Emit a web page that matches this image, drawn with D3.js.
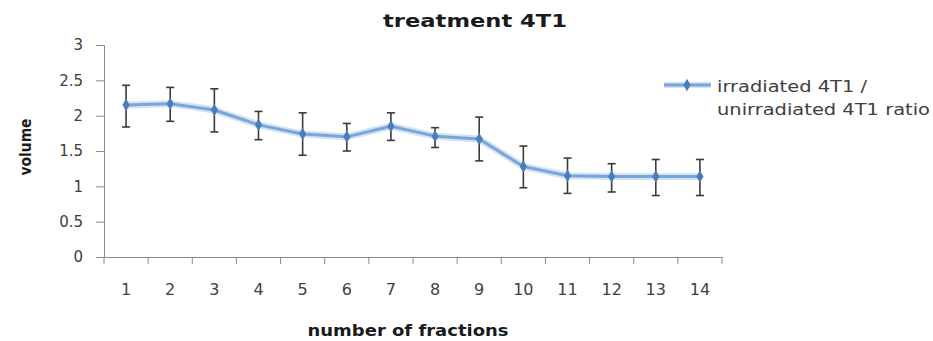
<!DOCTYPE html>
<html><head><meta charset="utf-8">
<script src="https://cdn.jsdelivr.net/npm/d3@7"></script>
<style>body{margin:0;background:#fff}</style>
</head><body>
<svg id="c" width="933" height="341"></svg>
<script>
const categories = ["1","2","3","4","5","6","7","8","9","10","11","12","13","14"];
const values = [2.15, 2.17, 2.08, 1.87, 1.74, 1.70, 1.85, 1.71, 1.67, 1.28, 1.15, 1.14, 1.14, 1.14];
const errUpper = [2.43, 2.40, 2.38, 2.06, 2.04, 1.89, 2.04, 1.83, 1.98, 1.57, 1.40, 1.32, 1.38, 1.38];
const errLower = [1.84, 1.92, 1.77, 1.66, 1.44, 1.50, 1.65, 1.55, 1.36, 0.98, 0.90, 0.92, 0.87, 0.87];
const yTicks = [0, 0.5, 1, 1.5, 2, 2.5, 3];
const seriesName = ["irradiated 4T1 /", "unirradiated 4T1 ratio"];

const svg = d3.select("#c");
const x = d3.scaleBand().domain(categories).range([104, 722]);
const y = d3.scaleLinear().domain([0, 3]).range([257, 45]);
const axisColor = "#8c8c8c";
const font = "'DejaVu Sans', Verdana, sans-serif";
const boldFont = "'DejaVu Sans', Verdana, sans-serif";

// title
svg.append("text").attr("x", 475).attr("y", 27).attr("text-anchor", "middle")
  .attr("font-family", boldFont).attr("font-weight", "bold").attr("font-size", 17).attr("fill", "#1a1a1a")
  .attr("textLength", 184).attr("lengthAdjust", "spacingAndGlyphs")
  .text("treatment 4T1");

// y axis
const ya = svg.append("g").attr("transform", "translate(104,0)")
  .call(d3.axisLeft(y).tickValues(yTicks).tickSize(8).tickPadding(13).tickFormat(d3.format("")));
ya.select(".domain").attr("stroke", axisColor);
ya.selectAll(".tick line").attr("stroke", axisColor);
ya.selectAll(".tick text").attr("font-family", font).attr("font-size", 15).attr("fill", "#404040");

// x axis
const xa = svg.append("g").attr("transform", "translate(0,257)")
  .call(d3.axisBottom(x).tickSize(0).tickPadding(27));
xa.select(".domain").attr("stroke", axisColor);
xa.selectAll(".tick text").attr("font-family", font).attr("font-size", 16).attr("fill", "#404040");
// tick marks at band boundaries
const bounds = categories.map(c => x(c)).concat([x.range()[1]]);
svg.append("g").selectAll("line").data(bounds).join("line")
  .attr("x1", d => d).attr("x2", d => d).attr("y1", 257).attr("y2", 264)
  .attr("stroke", axisColor);

// axis titles
svg.append("text").attr("transform", "translate(31,147) rotate(-90)").attr("text-anchor", "middle")
  .attr("font-family", boldFont).attr("font-weight", "bold").attr("font-size", 15).attr("fill", "#1a1a1a")
  .attr("textLength", 57).attr("lengthAdjust", "spacingAndGlyphs")
  .text("volume");
svg.append("text").attr("x", 408).attr("y", 336).attr("text-anchor", "middle")
  .attr("font-family", boldFont).attr("font-weight", "bold").attr("font-size", 15).attr("fill", "#1a1a1a")
  .attr("textLength", 201).attr("lengthAdjust", "spacingAndGlyphs")
  .text("number of fractions");

const cx = i => x(categories[i]) + x.bandwidth() / 2;
const data = values.map((v, i) => ({ i, v, hi: errUpper[i], lo: errLower[i] }));

// line with glow
const line = d3.line().x(d => cx(d.i)).y(d => y(d.v));
svg.append("path").datum(data).attr("d", line).attr("fill", "none")
  .attr("stroke", "#d3e3f4").attr("stroke-width", 7).attr("stroke-linejoin", "round");
svg.append("path").datum(data).attr("d", line).attr("fill", "none")
  .attr("stroke", "#79a6da").attr("stroke-width", 3).attr("stroke-linejoin", "round");

// error bars
const eb = svg.append("g").attr("stroke", "#3a3a3a").attr("stroke-width", 1.6);
eb.selectAll(".v").data(data).join("line")
  .attr("x1", d => cx(d.i)).attr("x2", d => cx(d.i)).attr("y1", d => y(d.hi)).attr("y2", d => y(d.lo));
eb.selectAll(".t").data(data).join("line")
  .attr("x1", d => cx(d.i) - 4).attr("x2", d => cx(d.i) + 4).attr("y1", d => y(d.hi)).attr("y2", d => y(d.hi));
eb.selectAll(".b").data(data).join("line")
  .attr("x1", d => cx(d.i) - 4).attr("x2", d => cx(d.i) + 4).attr("y1", d => y(d.lo)).attr("y2", d => y(d.lo));

// markers
const diamond = d3.symbol().type(d3.symbolDiamond).size(45);
svg.append("g").selectAll("path").data(data).join("path")
  .attr("d", diamond).attr("transform", d => `translate(${cx(d.i)},${y(d.v)})`)
  .attr("fill", "#4a7ebb");

// legend
const lg = svg.append("g");
lg.append("line").attr("x1", 664).attr("x2", 711).attr("y1", 85).attr("y2", 85)
  .attr("stroke", "#d3e3f4").attr("stroke-width", 6);
lg.append("line").attr("x1", 664).attr("x2", 711).attr("y1", 85).attr("y2", 85)
  .attr("stroke", "#79a6da").attr("stroke-width", 3);
lg.append("path").attr("d", diamond).attr("transform", "translate(687,85)").attr("fill", "#4a7ebb");
const legendLens = [150, 213];
lg.selectAll("text").data(seriesName).join("text")
  .attr("x", 717).attr("y", (d, i) => 92 + i * 23)
  .attr("font-family", font).attr("font-size", 15).attr("fill", "#404040")
  .attr("textLength", (d, i) => legendLens[i]).attr("lengthAdjust", "spacingAndGlyphs")
  .text(d => d);
</script>
</body></html>
